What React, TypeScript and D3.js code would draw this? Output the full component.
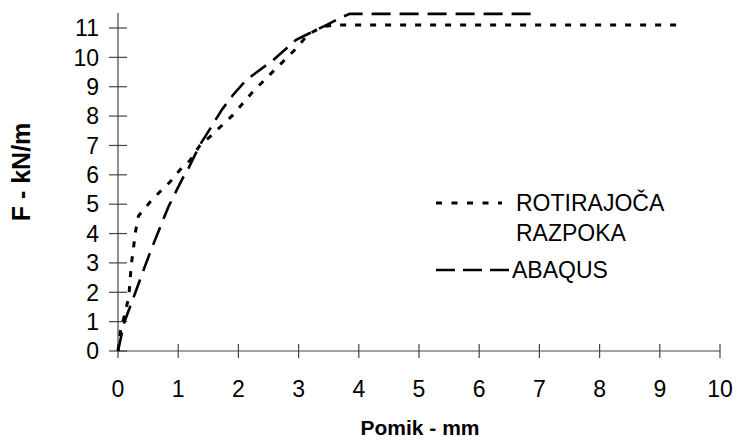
import React from 'react';
import * as d3 from 'd3';

// pomik (mm) vs sila (kN/m)
const rotirajocaRazpoka: [number, number][] = [
  [0, 0], [0.04, 0.66], [0.11, 1.23], [0.18, 1.85], [0.22, 2.93], [0.26, 3.55],
  [0.29, 4.06], [0.34, 4.6], [0.54, 5.09], [0.7, 5.43], [0.87, 5.77], [1.03, 6.17],
  [1.2, 6.5], [1.36, 7.0], [1.53, 7.3], [1.72, 7.67], [1.91, 8.04], [2.24, 8.83],
  [2.6, 9.57], [2.96, 10.3], [3.15, 10.77], [3.4, 11.05], [3.6, 11.1], [9.33, 11.1],
];
const abaqus: [number, number][] = [
  [0, 0], [0.1, 0.95], [0.29, 2.0], [0.45, 2.9], [0.57, 3.55], [0.76, 4.52],
  [0.84, 4.92], [1.06, 5.83], [1.17, 6.22], [1.36, 7.02], [1.5, 7.47], [1.72, 8.2],
  [1.91, 8.72], [2.13, 9.23], [2.58, 9.91], [2.96, 10.6], [3.18, 10.82], [3.46, 11.1],
  [3.7, 11.35], [3.85, 11.48], [6.98, 11.48],
];
const xTicks = [0, 1, 2, 3, 4, 5, 6, 7, 8, 9, 10];
const yTicks = [0, 1, 2, 3, 4, 5, 6, 7, 8, 9, 10, 11];

const font = '"Liberation Sans", Arial, sans-serif';

export default function App() {
  const x = d3.scaleLinear().domain([0, 10]).range([118, 720]);
  const y = d3.scaleLinear().domain([0, 11]).range([351, 28]);
  const line = d3.line<[number, number]>().x(d => x(d[0])).y(d => y(d[1]));

  return (
    <svg width={737} height={440} style={{ position: 'absolute', left: 0, top: 0, background: '#fff' }}>
      {/* osi */}
      <line x1={x(0)} x2={x(0)} y1={13} y2={y(0)} stroke="#444" strokeWidth={1.2} />
      <line x1={x(0)} x2={x(10)} y1={y(0)} y2={y(0)} stroke="#444" strokeWidth={1.2} />
      {xTicks.map(t => (
        <g key={'x' + t}>
          <line x1={x(t)} x2={x(t)} y1={y(0) - 7} y2={y(0) + 7} stroke="#444" strokeWidth={1.2} />
          <text x={x(t)} y={397} textAnchor="middle" fontFamily={font} fontSize={23}>{t}</text>
        </g>
      ))}
      {yTicks.map(t => (
        <g key={'y' + t}>
          <line x1={x(0) - 9} x2={x(0) + 9} y1={y(t)} y2={y(t)} stroke="#444" strokeWidth={1.2} />
          <text x={99} y={y(t)} dy="0.36em" textAnchor="end" fontFamily={font} fontSize={23}>{t}</text>
        </g>
      ))}
      <text x={420} y={435} textAnchor="middle" fontFamily={font} fontSize={21} fontWeight="bold">Pomik - mm</text>
      <text transform="translate(30,172) rotate(-90)" textAnchor="middle" fontFamily={font} fontSize={25} fontWeight="bold">F - kN/m</text>

      {/* krivulje */}
      <path d={line(rotirajocaRazpoka) || ''} fill="none" stroke="#000" strokeWidth={3} strokeDasharray="6,9" />
      <path d={line(abaqus) || ''} fill="none" stroke="#000" strokeWidth={2.6} strokeDasharray="19,9" />

      {/* legenda */}
      <line x1={436} x2={502} y1={203} y2={203} stroke="#000" strokeWidth={3} strokeDasharray="6,9.5" />
      <text x={516} y={203} dy="0.36em" fontFamily={font} fontSize={23}>ROTIRAJOČA</text>
      <text x={516} y={233} dy="0.36em" fontFamily={font} fontSize={23}>RAZPOKA</text>
      <line x1={436} x2={511} y1={270} y2={270} stroke="#000" strokeWidth={2.6} strokeDasharray="19,8" />
      <text x={512} y={270} dy="0.36em" fontFamily={font} fontSize={23}>ABAQUS</text>
    </svg>
  );
}
